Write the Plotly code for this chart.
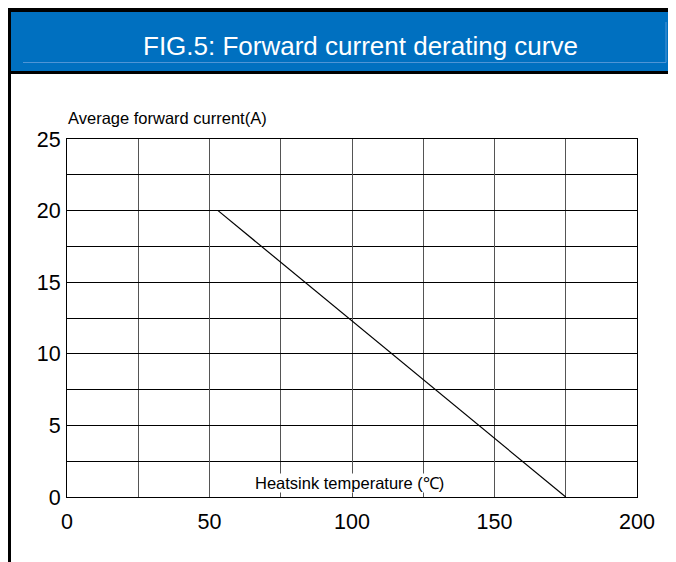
import plotly.graph_objects as go

# Data
temp_c = [53, 175]
current_a = [20, 0]
x_ticks = [0, 50, 100, 150, 200]
y_ticks = [0, 5, 10, 15, 20, 25]
title_text = "FIG.5: Forward current derating curve"
y_label = "Average forward current(A)"
x_label = "Heatsink temperature (℃)"

OFF = 8  # page offset of the figure in the browser
W, H = 676 + OFF, 562 + OFF
# target plot area in screen pixels: x 67..637, y 139..497
L = 67 - OFF
T = 139 - OFF
R = W - (637 - OFF)
B = H - (497 - OFF)
PW, PH = W - L - R, H - T - B

def px(x):
    return (x - OFF - L) / PW

def py(y):
    return (H - B - (y - OFF)) / PH

FONT = "Liberation Sans, Arial, sans-serif"

fig = go.Figure()
fig.add_trace(go.Scatter(x=temp_c, y=current_a, mode="lines",
                         line=dict(color="black", width=1.2),
                         hoverinfo="skip", showlegend=False))

shapes = [
    dict(type="rect", xref="paper", yref="paper", x0=px(7), x1=px(700), y0=py(74), y1=py(7),
         fillcolor="black", line_width=0, layer="above"),
    dict(type="rect", xref="paper", yref="paper", x0=px(11), x1=px(700), y0=py(71), y1=py(12),
         fillcolor="#0070C0", line_width=0, layer="above"),
    dict(type="rect", xref="paper", yref="paper", x0=px(7), x1=px(11), y0=py(590), y1=py(7),
         fillcolor="black", line_width=0, layer="above"),
    dict(type="line", xref="paper", yref="paper", x0=px(23), x1=px(666), y0=py(62.5), y1=py(62.5),
         line=dict(color="#4F95D6", width=1), layer="above"),
    dict(type="line", xref="paper", yref="paper", x0=px(666), x1=px(666), y0=py(62.5), y1=py(22),
         line=dict(color="#4F95D6", width=1), layer="above"),
]

annotations = [
    dict(text=title_text, xref="paper", yref="paper", x=px(360), y=py(46),
         xanchor="center", yanchor="middle", showarrow=False,
         font=dict(family=FONT, size=26, color="white")),
    dict(text=y_label, xref="paper", yref="paper", x=px(66), y=py(118),
         xanchor="left", yanchor="middle", showarrow=False,
         font=dict(family=FONT, size=16.5, color="black")),
    dict(text=x_label, xref="x", yref="y", x=99, y=0.95,
         xanchor="center", yanchor="middle", showarrow=False,
         bgcolor="white", borderpad=0,
         font=dict(family=FONT, size=16.5, color="black")),
]

fig.update_layout(
    width=W, height=H,
    margin=dict(l=L, r=R, t=T, b=B, pad=0),
    paper_bgcolor="white", plot_bgcolor="white",
    shapes=shapes, annotations=annotations,
    font=dict(family=FONT, color="black"),
    xaxis=dict(range=[0, 200], tickvals=x_ticks, ticktext=[str(v) for v in x_ticks],
               showgrid=True, gridcolor="#555555", gridwidth=1.3,
               minor=dict(dtick=25, tick0=0, showgrid=True, gridcolor="#555555", gridwidth=1.3),
               showline=True, linecolor="black", linewidth=1, mirror=True,
               ticks="outside", ticklen=5, tickcolor="rgba(0,0,0,0)",
               tickfont=dict(family=FONT, size=21.5, color="black"), zeroline=False,
               fixedrange=True),
    yaxis=dict(range=[0, 25], tickvals=y_ticks, ticktext=[str(v) for v in y_ticks],
               showgrid=True, gridcolor="black", gridwidth=1,
               minor=dict(dtick=2.5, tick0=0, showgrid=True, gridcolor="black", gridwidth=1),
               showline=True, linecolor="black", linewidth=1, mirror=True,
               ticks="outside", ticklen=1, tickcolor="rgba(0,0,0,0)",
               tickfont=dict(family=FONT, size=21.5, color="black"), zeroline=False,
               fixedrange=True),
)

fig.write_html("out.html")
